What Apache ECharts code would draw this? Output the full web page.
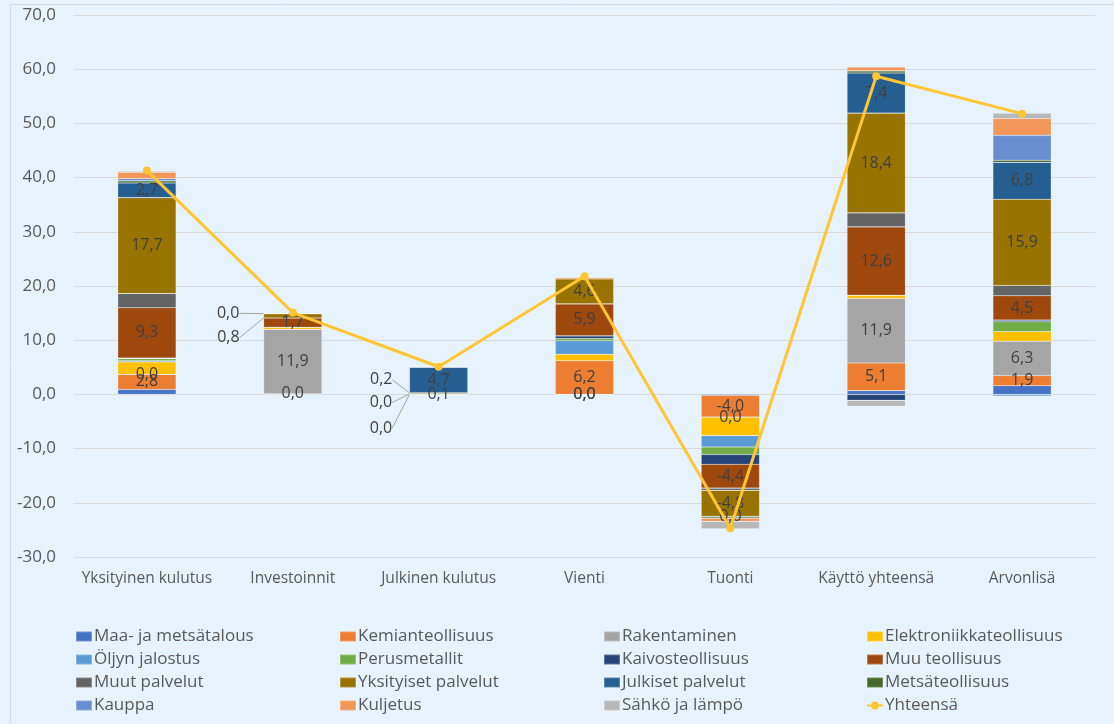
<!DOCTYPE html>
<html><head><meta charset="utf-8">
<script src="https://cdn.jsdelivr.net/npm/echarts@6/dist/echarts.min.js"></script>
<style>html,body{margin:0;padding:0;background:#E7F3FC}#c{width:1114px;height:724px}</style>
</head><body><div id="c"></div>
<script>
// ---- data ----
const categories = ['Yksityinen kulutus', 'Investoinnit', 'Julkinen kulutus', 'Vienti', 'Tuonti', 'Käyttö yhteensä', 'Arvonlisä'];
const maaJaMetsatalous   = [0.9, 0.1, 0.0, 0.0, -0.2, 0.7, 1.6];
const kemianteollisuus   = [2.8, 0.0, 0.0, 6.2, -4.0, 5.1, 1.9];
const rakentaminen       = [0.0, 11.9, 0.1, -0.02, 0.0, 11.9, 6.3];
const elektroniikka      = [2.3, 0.4, 0.0, 1.2, -3.4, 0.6, 1.8];
const oljynJalostus      = [0.2, 0.0, 0.0, 2.5, -2.1, 0.0, -0.3];
const perusmetallit      = [0.4, 0.0, 0.0, 0.4, -1.4, 0.0, 1.8];
const kaivosteollisuus   = [0.1, 0.0, 0.0, 0.5, -1.8, -1.1, 0.3];
const muuTeollisuus      = [9.3, 1.7, 0.0, 5.9, -4.4, 12.6, 4.5];
const muutPalvelut       = [2.6, 0.0, 0.0, 0.0, -0.4, 2.6, 1.9];
const yksityisetPalvelut = [17.7, 0.8, 0.2, 4.6, -4.8, 18.4, 15.9];
const julkisetPalvelut   = [2.7, 0.0, 4.7, -0.02, -0.02, 7.4, 6.8];
const metsateollisuus    = [0.4, 0.0, 0.0, 0.0, -0.3, 0.4, 0.4];
const kauppa             = [0.4, 0.0, 0.0, 0.0, 0.0, 0.0, 4.6];
const kuljetus           = [1.2, 0.1, 0.1, 0.3, -0.6, 0.7, 3.1];
const sahkoJaLampo       = [0.2, 0.0, 0.1, 0.0, -1.4, -1.1, 1.0];
const yhteensa           = [41.3, 15.1, 5.1, 21.8, -24.7, 58.7, 51.8];
const yTickMin = -30, yTickMax = 70, yTickStep = 10;

const barSeriesNames = ['Maa- ja metsätalous','Kemianteollisuus','Rakentaminen','Elektroniikkateollisuus','Öljyn jalostus','Perusmetallit','Kaivosteollisuus','Muu teollisuus','Muut palvelut','Yksityiset palvelut','Julkiset palvelut','Metsäteollisuus','Kauppa','Kuljetus','Sähkö ja lämpö'];
const barSeriesValues = [maaJaMetsatalous, kemianteollisuus, rakentaminen, elektroniikka, oljynJalostus, perusmetallit, kaivosteollisuus, muuTeollisuus, muutPalvelut, yksityisetPalvelut, julkisetPalvelut, metsateollisuus, kauppa, kuljetus, sahkoJaLampo];
const lineName = 'Yhteensä';

// ---- styling ----
const colors = ['#4472C4','#ED7D31','#A5A5A5','#FFC000','#5B9BD5','#70AD47','#264478','#9E480E','#636363','#997300','#255E91','#43682B','#698ED0','#F1975A','#B7B7B7'];
const labelled = ['Kemianteollisuus','Rakentaminen','Muu teollisuus','Yksityiset palvelut','Julkiset palvelut'];
const callouts = {
  'Julkiset palvelut|1': {dx: -24, dy: 0},
  'Yksityiset palvelut|1': {dx: -24, dy: 24},
  'Yksityiset palvelut|2': {dx: -17, dy: -13},
  'Muu teollisuus|2': {dx: -17, dy: 9},
  'Kemianteollisuus|2': {dx: -17, dy: 34}
};
const FONT = '"Open Sans", "Noto Sans", sans-serif';
const fmt = v => (Math.abs(v) < 0.05 ? 0 : v).toFixed(1).replace('.', ',');

const chart = echarts.init(document.getElementById('c'), null, {renderer: 'canvas'});

const series = barSeriesNames.map((name, si) => {
  const hasLabel = labelled.includes(name);
  return {
    name, type: 'bar', stack: 'total', barWidth: '40%',
    itemStyle: {color: colors[si], borderColor: 'rgba(255,255,255,0.25)', borderWidth: 0.6},
    data: barSeriesValues[si].map((v, di) => {
      const item = {value: v};
      if (hasLabel && callouts[name + '|' + di]) {
        item.labelLine = {show: true, length2: 0, lineStyle: {color: '#A6A6A6', width: 1}};
      }
      return item;
    }),
    label: hasLabel ? {
      show: true, position: 'inside', color: '#404040', fontFamily: FONT, fontSize: 16,
      formatter: p => fmt(p.value)
    } : {show: false},
    labelLayout: hasLabel ? function (p) {
      const c = callouts[name + '|' + p.dataIndex];
      if (!c) return {};
      return {x: p.rect.x + c.dx, y: p.rect.y + c.dy, align: 'right', verticalAlign: 'middle'};
    } : undefined,
    emphasis: {disabled: true}
  };
});
series.push({
  name: lineName, type: 'line', data: yhteensa, z: 10,
  color: '#FFC533',
  lineStyle: {color: '#FFC533', width: 3},
  itemStyle: {color: '#FFC533'},
  symbol: 'circle', symbolSize: 8,
  emphasis: {disabled: true}
});

const legendCols = [
  ['Maa- ja metsätalous','Öljyn jalostus','Muut palvelut','Kauppa'],
  ['Kemianteollisuus','Perusmetallit','Yksityiset palvelut','Kuljetus'],
  ['Rakentaminen','Kaivosteollisuus','Julkiset palvelut','Sähkö ja lämpö'],
  ['Elektroniikkateollisuus','Muu teollisuus','Metsäteollisuus','Yhteensä']
];
const legendX = [75, 339, 603, 866];
const legends = legendCols.map((d, i) => ({
  data: d.map(n => n === lineName ? {name: n} : {name: n, icon: 'rect'}),
  orient: 'vertical', left: legendX[i], top: 628, padding: 0,
  itemWidth: 16, itemHeight: 10, itemGap: 6, selectedMode: false,
  textStyle: {color: '#595959', fontFamily: FONT, fontSize: 17, lineHeight: 17, padding: [0, 0, 0, -3]}
}));

chart.setOption({
  animation: false,
  backgroundColor: '#E7F3FC',
  textStyle: {fontFamily: FONT},
  graphic: [{type: 'rect', shape: {x: 10.5, y: 4.5, width: 1200, height: 800}, style: {fill: 'none', stroke: '#D4D9DE', lineWidth: 1}, silent: true}],
  grid: {left: 74, right: 19, top: 15, bottom: 167, containLabel: false},
  legend: legends,
  xAxis: {
    type: 'category', data: categories,
    axisLine: {show: false}, axisTick: {show: false},
    axisLabel: {color: '#595959', fontSize: 15.5, fontFamily: FONT, margin: 14, interval: 0}
  },
  yAxis: {
    type: 'value', min: yTickMin, max: yTickMax, interval: yTickStep,
    axisLine: {show: false}, axisTick: {show: false},
    axisLabel: {color: '#595959', fontSize: 17, fontFamily: FONT, margin: 18, formatter: v => fmt(v)},
    splitLine: {lineStyle: {color: '#D9D9D9', width: 1}}
  },
  series
});
</script>
</body></html>
